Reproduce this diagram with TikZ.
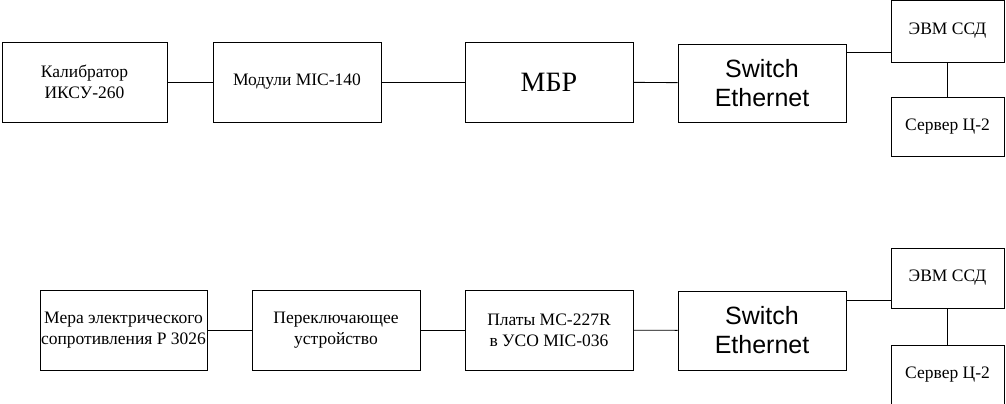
\documentclass[tikz,border=0pt]{standalone}
\usepackage{fontspec}
\setmainfont{Liberation Serif}
\newfontfamily\swfont{Liberation Sans}
\begin{document}
\begin{tikzpicture}[x=1pt,y=-1pt,
 bx/.style={draw,line width=0.9pt,align=center,inner sep=0pt,font=\fontsize{17.5}{21}\selectfont},
 sw/.style={font=\swfont\fontsize{25}{29}\selectfont},
 big/.style={font=\fontsize{28}{30}\selectfont},
 ln/.style={line width=0.9pt}]
\useasboundingbox (0,0) rectangle (1006,404);
\newcommand{\bxat}[7]{\node[bx,#7,minimum width=#4-#2,minimum height=#5-#3] (#1) at ({(#2+#4)/2},{(#3+#5)/2}) {#6};}
\bxat{a}{2}{42}{167}{122}{Калибратор\\ИКСУ-260}{}
\bxat{b}{213}{42}{381}{122}{Модули MIC-140}{}
\bxat{c}{465}{42}{633}{122}{МБР}{big}
\bxat{d}{678}{44}{846}{122}{Switch\\Ethernet}{sw}
\bxat{e}{891}{0}{1004}{62}{ЭВМ ССД}{}
\bxat{f}{891}{97}{1004}{156}{Сервер Ц-2}{}
\bxat{g}{40}{290}{207}{370}{Мера электрического\\сопротивления Р 3026}{}
\bxat{h}{252}{290}{420}{370}{Переключающее\\устройство}{}
\bxat{i}{465}{290}{633}{370}{Платы МС-227R\\в УСО MIC-036}{}
\bxat{j}{678}{291}{846}{370}{Switch\\Ethernet}{sw}
\bxat{k}{891}{248}{1004}{308}{ЭВМ ССД}{}
\bxat{l}{891}{345}{1004}{404}{Сервер Ц-2}{}
\draw[ln] (a) -- (b); \draw[ln] (b) -- (c); \draw[ln] (c) -- (d);
\draw[ln] (d.east|-0,52) -- (e.west|-0,52);
\draw[ln] (947,0|-e.south) -- (947,0|-f.north);
\draw[ln] (g) -- (h); \draw[ln] (h) -- (i); \draw[ln] (i) -- (j);
\draw[ln] (j.east|-0,300) -- (k.west|-0,300);
\draw[ln] (947,0|-k.south) -- (947,0|-l.north);
\end{tikzpicture}
\end{document}
